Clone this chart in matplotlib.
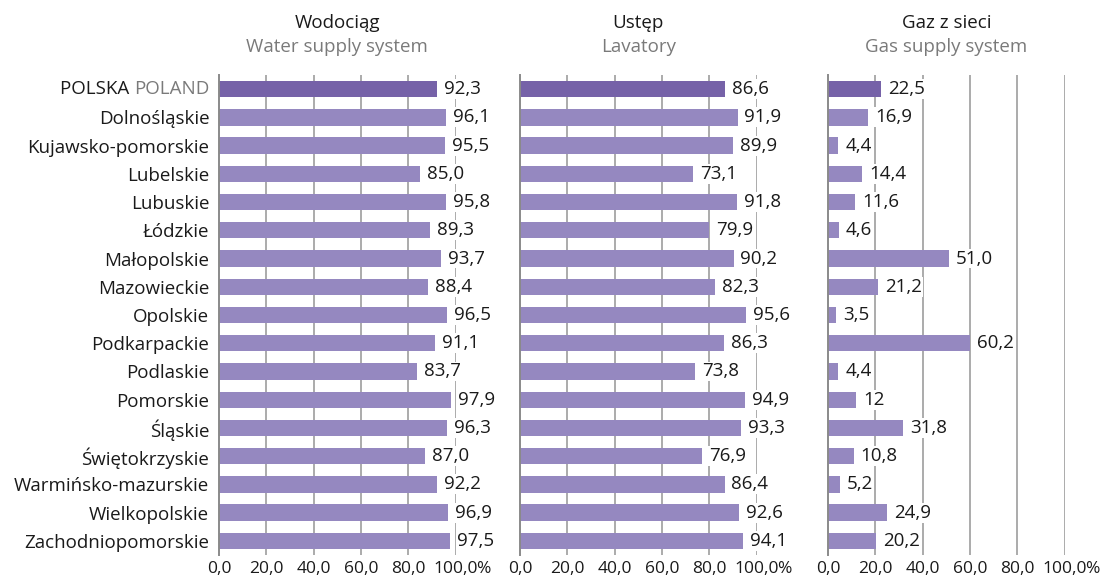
import matplotlib
matplotlib.use("Agg")
import matplotlib.pyplot as plt

plt.rcParams['font.family'] = ['Open Sans', 'DejaVu Sans']

# Data
regions = ["POLSKA POLAND", "Dolnośląskie", "Kujawsko-pomorskie", "Lubelskie", "Lubuskie",
           "Łódzkie", "Małopolskie", "Mazowieckie", "Opolskie", "Podkarpackie",
           "Podlaskie", "Pomorskie", "Śląskie", "Świętokrzyskie", "Warmińsko-mazurskie",
           "Wielkopolskie", "Zachodniopomorskie"]
water = [92.3, 96.1, 95.5, 85.0, 95.8, 89.3, 93.7, 88.4, 96.5, 91.1, 83.7, 97.9, 96.3, 87.0, 92.2, 96.9, 97.5]
lavatory = [86.6, 91.9, 89.9, 73.1, 91.8, 79.9, 90.2, 82.3, 95.6, 86.3, 73.8, 94.9, 93.3, 76.9, 86.4, 92.6, 94.1]
gas = [22.5, 16.9, 4.4, 14.4, 11.6, 4.6, 51.0, 21.2, 3.5, 60.2, 4.4, 12, 31.8, 10.8, 5.2, 24.9, 20.2]

titles = ["Wodociąg", "Ustęp", "Gaz z sieci"]
subtitles = ["Water supply system", "Lavatory", "Gas supply system"]
xticks = [0, 20, 40, 60, 80, 100]
xticklabels = ["0,0", "20,0", "40,0", "60,0", "80,0", "100,0"]

dark = "#7662a8"
light = "#9588c0"
txt = "#1a1a1a"
grey_txt = "#7a7a7a"


def fmt(v):
    if isinstance(v, int):
        return str(v)
    return f"{v:.1f}".replace(".", ",")


fig = plt.figure(figsize=(11.01, 5.8), dpi=100)
lefts = [0.1989, 0.4723, 0.7520]
series = [water, lavatory, gas]

for i, (vals, left) in enumerate(zip(series, lefts)):
    ax = fig.add_axes([left, 0.0431, 0.2150, 0.8276])
    y = list(range(len(regions)))
    colors = [dark] + [light] * (len(regions) - 1)
    ax.barh(y, vals, height=0.58, color=colors, zorder=3)
    for yy, v in zip(y, vals):
        ax.annotate(fmt(v), xy=(v, yy), xytext=(5, 0), textcoords="offset points",
                    ha="left", va="center", fontsize=13.5, color=txt, zorder=4,
                    bbox=dict(boxstyle="square,pad=0.05", fc="white", ec="none"))
    ax.set_xlim(0, 100)
    ax.set_ylim(16.5, -0.5)
    ax.set_xticks(xticks)
    ax.set_xticklabels(xticklabels, fontsize=12.5, color=txt)
    ax.tick_params(axis="x", length=0, pad=4)
    ax.tick_params(axis="y", length=0, pad=7)
    # percent sign hangs off the last tick label
    last = ax.get_xticklabels()[-1]
    ax.annotate("%", xy=(1, 0.5), xycoords=last, xytext=(-1.5, 0), textcoords="offset points",
                ha="left", va="center", fontsize=12.5, color=txt, annotation_clip=False)
    for x in xticks[1:]:
        ax.axvline(x, color="#ababab", lw=1.4, zorder=1)
    for s in ["top", "right", "bottom"]:
        ax.spines[s].set_visible(False)
    ax.spines["left"].set_color("#8a8a8a")
    ax.spines["left"].set_linewidth(1.4)
    ax.spines["left"].set_zorder(5)

    if i == 0:
        ax.set_yticks(y)
        ax.set_yticklabels([""] + regions[1:], fontsize=13.5, color=txt)
        t_en = ax.annotate("POLAND", xy=(0, 0), xytext=(-7, 0), textcoords="offset points",
                           ha="right", va="center", fontsize=13.5, color=grey_txt)
        ax.annotate("POLSKA ", xy=(0, 0.5), xycoords=t_en, ha="right", va="center",
                    fontsize=13.5, color=txt)
    else:
        ax.set_yticks([])

    ax.text(0.5, 1.108, titles[i], transform=ax.transAxes, ha="center", va="center",
            fontsize=13.5, color=txt)
    ax.text(0.5, 1.058, subtitles[i], transform=ax.transAxes, ha="center", va="center",
            fontsize=13.5, color=grey_txt)

fig.savefig("out.png", dpi=100, facecolor="white")
